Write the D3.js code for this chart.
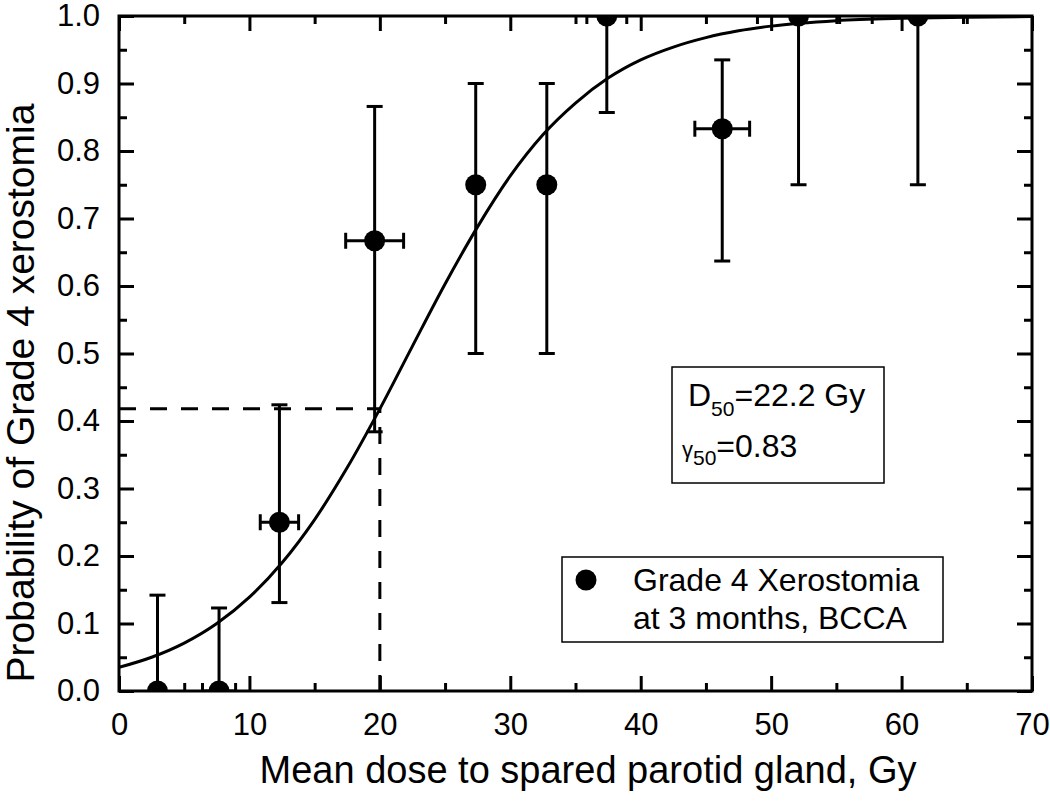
<!DOCTYPE html>
<html>
<head>
<meta charset="utf-8">
<script src="https://cdn.jsdelivr.net/npm/d3@7"></script>
<style>
  body { margin: 0; background: #fff; }
  svg { font-family: "Liberation Sans", Arial, sans-serif; }
  .axis path.domain { display: none; }
  .axis line { stroke: #000; stroke-width: 3; }
  .axis text { font-size: 31px; fill: #000; }
</style>
</head>
<body>
<svg id="chart"></svg>
<script>
// measured points (dose in Gy, probability)
const doses    = [2.95, 7.67, 12.3, 19.6, 27.35, 32.8, 37.4, 46.25, 52.1, 61.25];
const probs    = [0, 0, 0.25, 0.667, 0.75, 0.75, 1.0, 0.833, 1.0, 1.0];
const errLow   = [0, 0, 0.131, 0.384, 0.50, 0.50, 0.857, 0.637, 0.75, 0.75];
const errHigh  = [0.142, 0.123, 0.424, 0.866, 0.90, 0.90, 1.0, 0.935, 1.0, 1.0];
const doseErr  = [0, 1.27, 1.47, 2.22, 0, 0, 1.53, 2.1, 3.15, 3.5];

// fitted curve
const fitDose = [0, 2.5, 5, 7.5, 10, 12.5, 15, 17.5, 20, 22.5, 25, 27.5, 30, 32.5, 35, 37.5, 40, 42.5, 45, 47.5, 50, 55, 60, 65, 70];
const fitProb = [0.035, 0.050, 0.071, 0.100, 0.139, 0.190, 0.254, 0.331, 0.418, 0.511, 0.603, 0.688, 0.763, 0.824, 0.871, 0.908, 0.935, 0.954, 0.968, 0.978, 0.985, 0.993, 0.9965, 0.9983, 0.9992];

// dashed guide
const refDose = 20;
const refProb = 0.418;

const xTicks = [0, 10, 20, 30, 40, 50, 60, 70];
const xMinor = [5, 15, 25, 35, 45, 55, 65];
const yTicks = [0, 0.1, 0.2, 0.3, 0.4, 0.5, 0.6, 0.7, 0.8, 0.9, 1.0];
const yMinor = [0.05, 0.15, 0.25, 0.35, 0.45, 0.55, 0.65, 0.75, 0.85, 0.95];

const legendLines = ["Grade 4 Xerostomia", "at 3 months, BCCA"];

const W = 1050, H = 806;
const margin = {top: 16, right: 18, bottom: 115, left: 119};
const width = W - margin.left - margin.right;
const height = H - margin.top - margin.bottom;

const svg = d3.select('#chart').attr('width', W).attr('height', H);
const g = svg.append('g').attr('transform', `translate(${margin.left},${margin.top})`);

const x = d3.scaleLinear().domain([0, 70]).range([0, width]);
const y = d3.scaleLinear().domain([0, 1]).range([height, 0]);

svg.append('defs').append('clipPath').attr('id', 'plot')
  .append('rect').attr('width', width).attr('height', height);

const plot = g.append('g').attr('clip-path', 'url(#plot)');

// dashed guide lines
plot.append('path')
  .attr('d', `M${x(0)},${y(refProb)}H${x(refDose)}V${y(0)}`)
  .attr('fill', 'none').attr('stroke', '#000').attr('stroke-width', 3)
  .attr('stroke-dasharray', '17,14');

// fit curve
const line = d3.line().x(d => x(d[0])).y(d => y(d[1])).curve(d3.curveMonotoneX);
plot.append('path')
  .datum(fitDose.map((d, i) => [d, fitProb[i]]))
  .attr('d', line)
  .attr('fill', 'none').attr('stroke', '#000').attr('stroke-width', 3);

// error bars
const pts = doses.map((d, i) => ({d, p: probs[i], lo: errLow[i], hi: errHigh[i], dx: doseErr[i]}));
const cap = 8;
const eb = plot.append('g').attr('stroke', '#000').attr('stroke-width', 3).attr('fill', 'none');
pts.forEach(o => {
  const cx = x(o.d);
  eb.append('line').attr('x1', cx).attr('x2', cx).attr('y1', y(o.lo)).attr('y2', y(o.hi));
  if (o.hi > o.p) eb.append('line').attr('x1', cx - cap).attr('x2', cx + cap).attr('y1', y(o.hi)).attr('y2', y(o.hi));
  if (o.lo < o.p) eb.append('line').attr('x1', cx - cap).attr('x2', cx + cap).attr('y1', y(o.lo)).attr('y2', y(o.lo));
  if (o.dx > 0) {
    const x0 = x(o.d - o.dx), x1 = x(o.d + o.dx), cy = y(o.p);
    eb.append('line').attr('x1', x0).attr('x2', x1).attr('y1', cy).attr('y2', cy);
    eb.append('line').attr('x1', x0).attr('x2', x0).attr('y1', cy - cap).attr('y2', cy + cap);
    eb.append('line').attr('x1', x1).attr('x2', x1).attr('y1', cy - cap).attr('y2', cy + cap);
  }
});

plot.selectAll('circle.pt')
  .data(pts)
  .join('circle')
  .attr('class', 'pt')
  .attr('cx', o => x(o.d))
  .attr('cy', o => y(o.p))
  .attr('r', 10.5)
  .attr('fill', '#000');

// axes: ticks pointing inward on all four sides
const fmtY = d3.format('.1f');
g.append('g').attr('class', 'axis').attr('transform', `translate(0,${height})`)
  .call(d3.axisBottom(x).tickValues(xTicks).tickSize(-15).tickSizeOuter(0).tickPadding(22));
g.append('g').attr('class', 'axis').attr('transform', `translate(0,${height})`)
  .call(d3.axisBottom(x).tickValues(xMinor).tickSize(-8).tickSizeOuter(0).tickFormat(''));
g.append('g').attr('class', 'axis')
  .call(d3.axisTop(x).tickValues(xTicks).tickSize(-15).tickSizeOuter(0).tickFormat(''));
g.append('g').attr('class', 'axis')
  .call(d3.axisTop(x).tickValues(xMinor).tickSize(-8).tickSizeOuter(0).tickFormat(''));

g.append('g').attr('class', 'axis')
  .call(d3.axisLeft(y).tickValues(yTicks).tickSize(-15).tickSizeOuter(0).tickPadding(19).tickFormat(fmtY));
g.append('g').attr('class', 'axis')
  .call(d3.axisLeft(y).tickValues(yMinor).tickSize(-8).tickSizeOuter(0).tickFormat(''));
g.append('g').attr('class', 'axis').attr('transform', `translate(${width},0)`)
  .call(d3.axisRight(y).tickValues(yTicks).tickSize(-15).tickSizeOuter(0).tickFormat(''));
g.append('g').attr('class', 'axis').attr('transform', `translate(${width},0)`)
  .call(d3.axisRight(y).tickValues(yMinor).tickSize(-8).tickSizeOuter(0).tickFormat(''));

g.append('rect').attr('width', width).attr('height', height)
  .attr('fill', 'none').attr('stroke', '#000').attr('stroke-width', 3);

// axis titles
svg.append('text')
  .attr('x', 588).attr('y', 783)
  .attr('text-anchor', 'middle').attr('font-size', 38)
  .text('Mean dose to spared parotid gland, Gy');
svg.append('text')
  .attr('transform', `translate(34,393) rotate(-90)`)
  .attr('text-anchor', 'middle').attr('font-size', 39)
  .text('Probability of Grade 4 xerostomia');

// parameter box
const pb = svg.append('g');
pb.append('rect').attr('x', 672).attr('y', 367).attr('width', 212).attr('height', 116)
  .attr('fill', '#fff').attr('stroke', '#000').attr('stroke-width', 1.5);
const t1 = pb.append('text').attr('x', 688).attr('y', 406).attr('font-size', 32);
t1.append('tspan').text('D');
t1.append('tspan').attr('font-size', 21).attr('dy', 10).text('50');
t1.append('tspan').attr('dy', -10).text('=22.2 Gy');
const t2 = pb.append('text').attr('x', 682).attr('y', 457).attr('font-size', 32);
t2.append('tspan').attr('font-size', 22).text('γ');
t2.append('tspan').attr('font-size', 21).attr('dy', 8).text('50');
t2.append('tspan').attr('dy', -8).text('=0.83');

// legend
const lg = svg.append('g');
lg.append('rect').attr('x', 562).attr('y', 557).attr('width', 381).attr('height', 85)
  .attr('fill', '#fff').attr('stroke', '#000').attr('stroke-width', 1.5);
lg.append('circle').attr('cx', 586).attr('cy', 580).attr('r', 10.5).attr('fill', '#000');
lg.selectAll('text.leg')
  .data(legendLines)
  .join('text')
  .attr('class', 'leg')
  .attr('x', 633).attr('y', (d, i) => 591 + i * 38)
  .attr('font-size', 32)
  .text(d => d);
</script>
</body>
</html>
